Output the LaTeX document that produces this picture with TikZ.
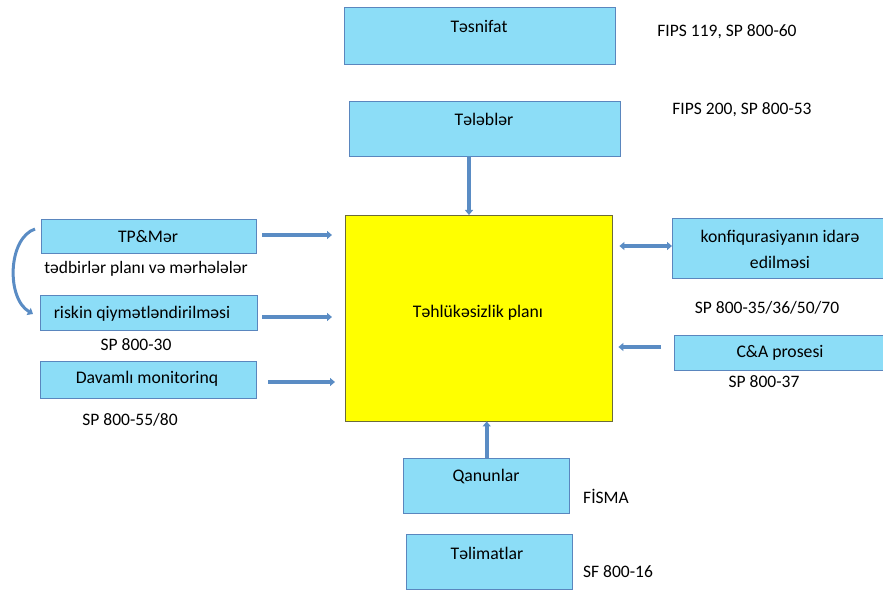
\documentclass[tikz,border=0pt]{standalone}
\usepackage{fontspec}
\setmainfont{Carlito}
\usetikzlibrary{arrows.meta}
\definecolor{boxfill}{HTML}{8CDDF7}
\definecolor{boxline}{HTML}{5A86BE}
\definecolor{arrowblue}{HTML}{5A8CC4}
\definecolor{planfill}{HTML}{FFFF00}
\definecolor{planline}{HTML}{6B6B3A}
\tikzset{
  box/.style={draw=boxline, fill=boxfill, line width=1.4pt, inner sep=0pt, anchor=north west},
  plan/.style={draw=planline, fill=planfill, line width=1.4pt, inner sep=0pt, anchor=north west},
  boxtext/.style={font=\fontsize{17.7}{21}\selectfont, inner sep=0pt, align=center},
  note/.style={font=\fontsize{17.5}{21}\selectfont, inner sep=0pt},
  link/.style={draw=arrowblue, line width=3.6pt, -{Triangle[width=8pt,length=5pt]}},
  twolink/.style={draw=arrowblue, line width=3.6pt, {Triangle[width=8pt,length=5pt]}-{Triangle[width=8pt,length=5pt]}}
}
\begin{document}
\begin{tikzpicture}[x=1pt,y=-1pt]
\useasboundingbox (0,0) rectangle (883,593);

% central plan
\node[plan, minimum width=267pt, minimum height=206pt] (plan) at (345,215) {};
\node[boxtext] (plantext) at (478,313) {Təhlükəsizlik planı};

% top column
\node[box, minimum width=271pt, minimum height=57pt] (tas) at (344,7) {};
\node[boxtext] (tastext) at (479,26) {Təsnifat};
\node[note] (tasnote) at (727,32) {FIPS 119, SP 800-60};

\node[box, minimum width=271pt, minimum height=55pt] (tel) at (349,101) {};
\node[boxtext] (teltext) at (484,119) {Tələblər};
\node[note] (telnote) at (742,110) {FIPS 200, SP 800-53};

% bottom column
\node[box, minimum width=166pt, minimum height=55pt] (qan) at (403,458) {};
\node[boxtext] (qantext) at (486,477) {Qanunlar};
\node[note] (qannote) at (606,496) {FİSMA};

\node[box, minimum width=166pt, minimum height=55pt] (tal) at (406,534) {};
\node[boxtext] (taltext) at (487,553) {Təlimatlar};
\node[note] (talnote) at (618,572) {SF 800-16};

% left column
\node[box, minimum width=215pt, minimum height=34pt] (tp) at (41,219) {};
\node[boxtext] (tptext) at (148,237) {TP\&Mər};
\node[note] (tpnote) at (146,269) {tədbirlər planı və mərhələlər};

\node[box, minimum width=217pt, minimum height=35pt] (risk) at (40,295) {};
\node[boxtext] (risktext) at (142,314) {riskin qiymətləndirilməsi};
\node[note] (risknote) at (136,345) {SP 800-30};

\node[box, minimum width=216pt, minimum height=37pt] (dav) at (40,361) {};
\node[boxtext] (davtext) at (147,379) {Davamlı monitorinq};
\node[note] (davnote) at (130,420) {SP 800-55/80};

% right column
\node[box, minimum width=215pt, minimum height=60pt] (konf) at (672,218) {};
\node[boxtext] (konftext1) at (780,238) {konfiqurasiyanın idarə};
\node[boxtext] (konftext2) at (780,262) {edilməsi};
\node[note] (konfnote) at (767,308) {SP 800-35/36/50/70};

\node[box, minimum width=215pt, minimum height=35pt] (ca) at (674,335) {};
\node[boxtext] (catext) at (780,353) {C\&A prosesi};
\node[note] (canote) at (764,382) {SP 800-37};

% connector end points
\coordinate (telfoot) at (469,156);
\coordinate (tpfrom) at (262,235);
\coordinate (riskfrom) at (262,317);
\coordinate (davfrom) at (268,382);
\coordinate (konfat) at (672,246);
\coordinate (cafrom) at (661,347);
\coordinate (curvestart) at (35,229);
\coordinate (curveend) at (33,314);

% connectors
\draw[link] (telfoot) -- (telfoot |- plan.north);
\draw[link] (qan.north) -- ([yshift=1pt]qan.north |- plan.south);
\draw[link, shorten >=13pt] (tpfrom) -- (tpfrom -| plan.west);
\draw[link, shorten >=13pt] (riskfrom) -- (riskfrom -| plan.west);
\draw[link, shorten >=10pt] (davfrom) -- (davfrom -| plan.west);
\draw[twolink, shorten >=6pt] (konfat) -- (konfat -| plan.east);
\draw[link, shorten >=5pt] (cafrom) -- (cafrom -| plan.east);
\draw[link, line width=3pt] (curvestart) .. controls (8,238) and (6,298) .. (curveend);
\end{tikzpicture}
\end{document}
